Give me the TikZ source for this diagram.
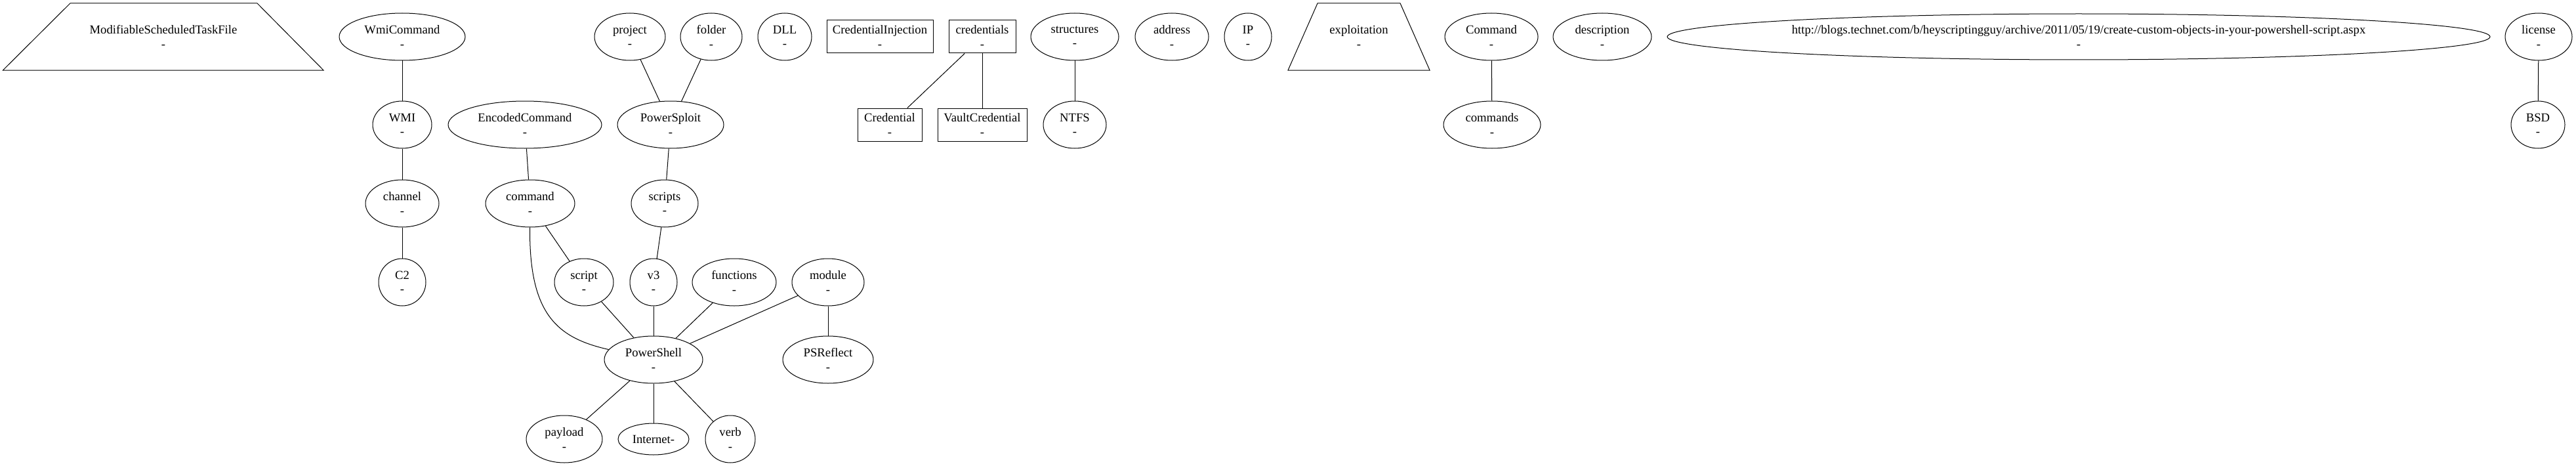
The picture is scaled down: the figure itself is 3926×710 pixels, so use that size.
\documentclass[tikz,border=0pt]{standalone}
\usepackage{fontspec}
\setmainfont{Liberation Serif}
\usetikzlibrary{shapes.geometric}
\begin{document}
\begin{tikzpicture}[x=0.75pt, y=-0.75pt,
  every node/.style={font=\fontsize{14}{16}\selectfont, align=center, inner sep=0pt},
  ell/.style={draw, ellipse, line width=0.75pt, minimum height=54pt},
  box/.style={draw, rectangle, line width=0.75pt, minimum height=37.5pt},
  link/.style={line width=0.75pt}]
\useasboundingbox (0,0) rectangle (3926,710);
% trapezium nodes (text) and their outlines
\node (mstf) at (249,56) {ModifiableScheduledTaskFile\\-};
\draw[link] (4.5,107) -- (107,5) -- (392,5) -- (493,107) -- cycle;
\node (exploitation) at (2071,56) {exploitation\\-};
\draw[link] (1963,107) -- (2008,5) -- (2134,5) -- (2179,107) -- cycle;
% ellipses
\node[ell, minimum width=144pt] (wmicommand) at (613,56) {WmiCommand\\-};
\node[ell, minimum width=67.5pt] (wmi) at (613,190) {WMI\\-};
\node[ell, minimum width=84pt] (channel) at (613,310) {channel\\-};
\node[ell, minimum width=54pt] (c2) at (613,430) {C2\\-};
\node[ell, minimum width=175.5pt] (encodedcommand) at (800,190) {EncodedCommand\\-};
\node[ell, minimum width=102pt] (command) at (808,310) {command\\-};
\node[ell, minimum width=81pt] (project) at (960,56) {project\\-};
\node[ell, minimum width=70.5pt] (folder) at (1084,56) {folder\\-};
\node[ell, minimum width=61.5pt] (dll) at (1196,56) {DLL\\-};
\node[ell, minimum width=121.5pt] (powersploit) at (1022,190) {PowerSploit\\-};
\node[ell, minimum width=76.5pt] (scripts) at (1013,310) {scripts\\-};
\node[ell, minimum width=67.5pt] (script) at (890,430) {script\\-};
\node[ell, minimum width=54pt] (v3) at (996,430) {v3\\-};
\node[ell, minimum width=96pt] (functions) at (1119,430) {functions\\-};
\node[ell, minimum width=82.5pt] (module) at (1262,430) {module\\-};
\node[ell, minimum width=112.5pt] (powershell) at (996,548) {PowerShell\\-};
\node[ell, minimum width=103.5pt] (psreflect) at (1262,548) {PSReflect\\-};
\node[ell, minimum width=87pt] (payload) at (860,669) {payload\\-};
\node[ell, minimum width=81pt, minimum height=36pt] (internet) at (996,669) {Internet-};
\node[ell, minimum width=57pt] (verb) at (1113,669) {verb\\-};
% boxes
\node[box, minimum width=121.5pt] (credinj) at (1341,56) {CredentialInjection\\-};
\node[box, minimum width=76.5pt] (credentials) at (1497,56) {credentials\\-};
\node[box, minimum width=73.5pt] (credential) at (1356,190) {Credential\\-};
\node[box, minimum width=102pt] (vaultcred) at (1497,190) {VaultCredential\\-};
% more ellipses
\node[ell, minimum width=100.5pt] (structures) at (1638,56) {structures\\-};
\node[ell, minimum width=72pt] (ntfs) at (1638,190) {NTFS\\-};
\node[ell, minimum width=84pt] (address) at (1786,56) {address\\-};
\node[ell, minimum width=54pt] (ip) at (1902,56) {IP\\-};
\node[ell, minimum width=106.5pt] (Command) at (2273,56) {Command\\-};
\node[ell, minimum width=111pt] (commands) at (2274,190) {commands\\-};
\node[ell, minimum width=112.5pt] (description) at (2442,56) {description\\-};
\node[ell, minimum width=940.5pt, minimum height=52.5pt] (url) at (3168,56) {http://blogs.technet.com/b/heyscriptingguy/archive/2011/05/19/create-custom-objects-in-your-powershell-script.aspx\\-};
\node[ell, minimum width=76.5pt] (license) at (3869,56) {license\\-};
\node[ell, minimum width=61.5pt] (bsd) at (3868,190) {BSD\\-};
% connectors
\draw[link] (wmicommand) -- (wmi);
\draw[link] (wmi) -- (channel);
\draw[link] (channel) -- (c2);
\draw[link] (encodedcommand) -- (command);
\draw[link] (command) .. controls (806,480) and (850,515) .. (powershell);
\draw[link] (command) -- (script);
\draw[link] (project) -- (powersploit);
\draw[link] (folder) -- (powersploit);
\draw[link] (powersploit) -- (scripts);
\draw[link] (scripts) -- (v3);
\draw[link] (script) -- (powershell);
\draw[link] (v3) -- (powershell);
\draw[link] (functions) -- (powershell);
\draw[link] (module) -- (powershell);
\draw[link] (module) -- (psreflect);
\draw[link] (powershell) -- (payload);
\draw[link] (powershell) -- (internet);
\draw[link] (powershell) -- (verb);
\draw[link] (credentials) -- (credential);
\draw[link] (credentials) -- (vaultcred);
\draw[link] (structures) -- (ntfs);
\draw[link] (Command) -- (commands);
\draw[link] (license) -- (bsd);
\end{tikzpicture}
\end{document}
